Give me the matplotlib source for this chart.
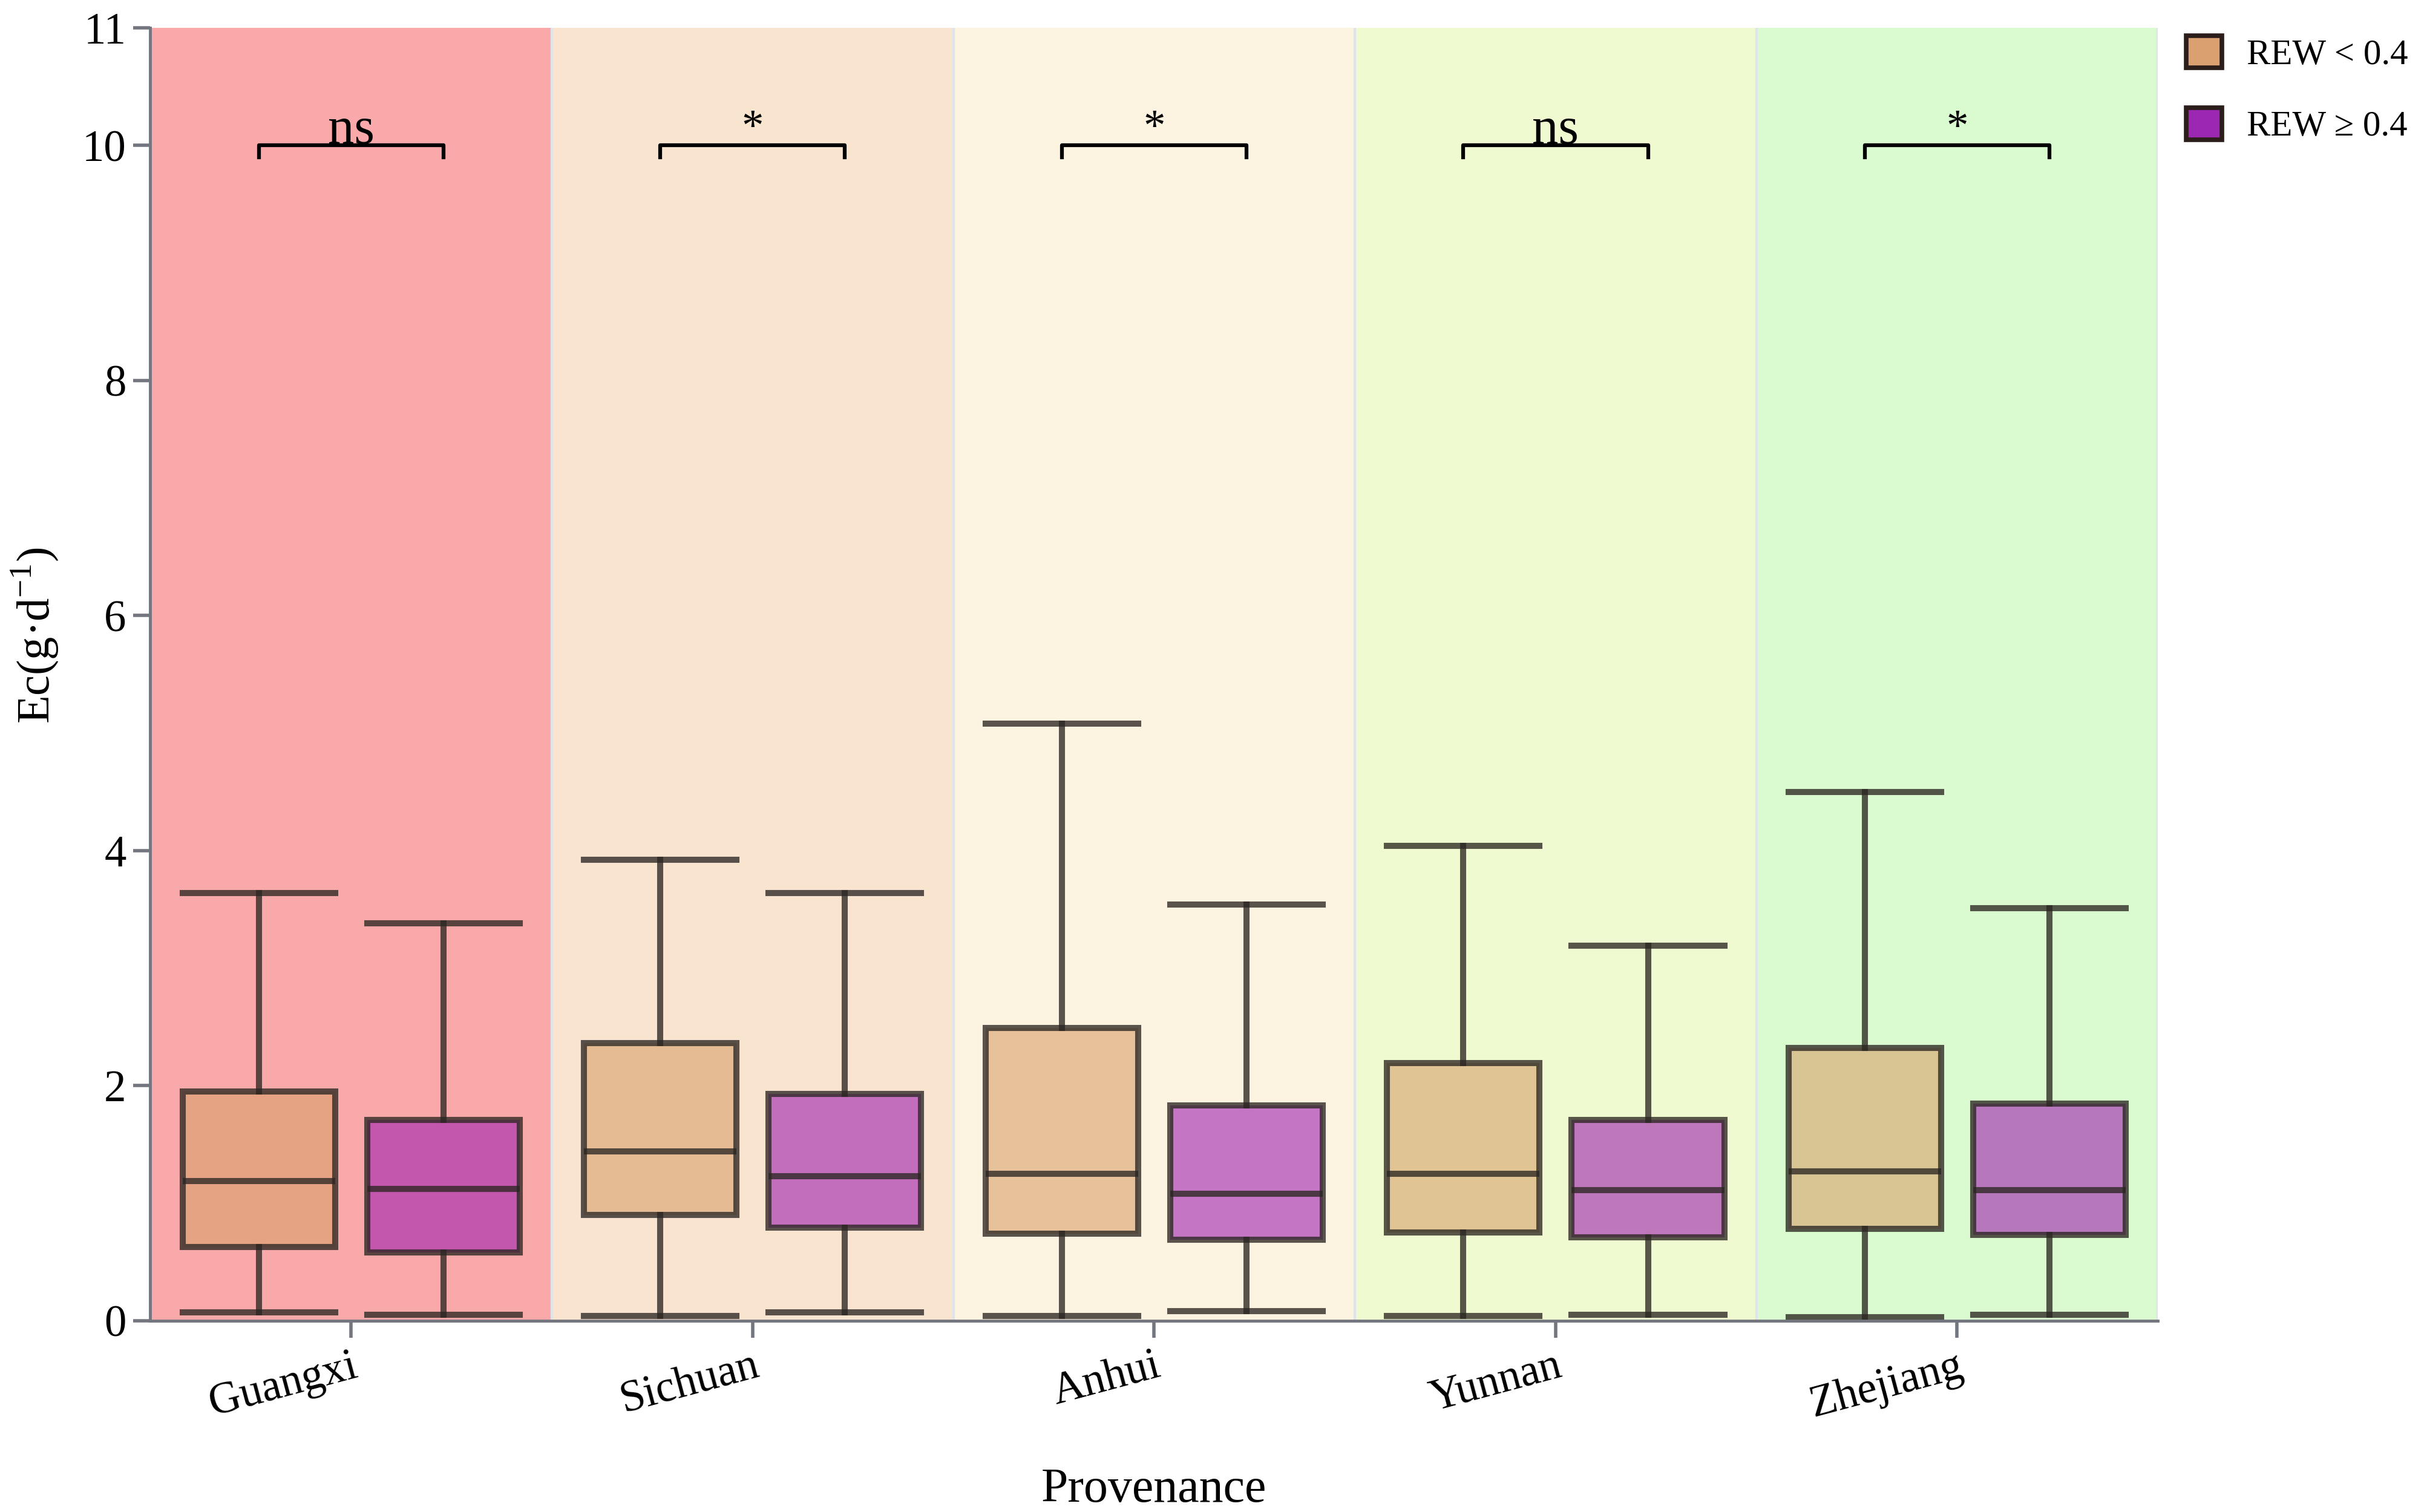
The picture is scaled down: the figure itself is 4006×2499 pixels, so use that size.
import numpy as np
import matplotlib
matplotlib.use('Agg')
from matplotlib import pyplot as plt
from matplotlib.patches import Patch
from matplotlib.colors import to_rgba

plt.rcParams['font.family'] = ['Liberation Serif', 'DejaVu Serif']
plt.rcParams['mathtext.fontset'] = 'custom'
plt.rcParams['mathtext.rm'] = 'Liberation Serif'

# 产地
provenance = ['Guangxi', 'Sichuan', 'Anhui', 'Yunnan', 'Zhejiang']
sig_labels = ['ns', '*', '*', 'ns', '*']
group_names = ['REW < 0.4', 'REW \u2265 0.4']

# REW < 0.4 箱线数据
low_whislo = [0.07, 0.04, 0.04, 0.04, 0.03]
low_q1 = [0.63, 0.90, 0.74, 0.75, 0.78]
low_med = [1.19, 1.44, 1.25, 1.25, 1.27]
low_q3 = [1.95, 2.36, 2.49, 2.19, 2.32]
low_whishi = [3.64, 3.92, 5.08, 4.04, 4.50]

# REW >= 0.4 箱线数据
high_whislo = [0.05, 0.07, 0.08, 0.05, 0.05]
high_q1 = [0.58, 0.79, 0.69, 0.71, 0.73]
high_med = [1.12, 1.23, 1.08, 1.11, 1.11]
high_q3 = [1.71, 1.93, 1.83, 1.71, 1.85]
high_whishi = [3.38, 3.64, 3.54, 3.19, 3.51]

bg_colors = ['#F9A9A9', '#F9E4D0', '#FCF4E1', '#EFFAD0', '#DAFACF']
box_colors = ['#D9A06B', '#A020B0']
legend_colors = ['#DBA070', '#9C27B0']
edge = to_rgba('#2b2622', 0.78)

fig = plt.figure(figsize=(16.028, 9.996), dpi=250)
ax = fig.add_axes([0.062, 0.1265, 0.828, 0.855])

n = len(provenance)
x = np.arange(n)
offset = 0.23
width = 0.38

# 背景色块
for i in range(n):
    ax.axvspan(i - 0.5, i + 0.5, color=bg_colors[i], zorder=0, lw=0)
for i in range(1, n + 1):
    ax.axvline(i - 0.5, color='#dfe4ec', lw=1.2, zorder=0.5)


def make_stats(lo, q1, med, q3, hi):
    return [dict(whislo=lo[i], q1=q1[i], med=med[i], q3=q3[i], whishi=hi[i])
            for i in range(len(lo))]


stats_low = make_stats(low_whislo, low_q1, low_med, low_q3, low_whishi)
stats_high = make_stats(high_whislo, high_q1, high_med, high_q3, high_whishi)

lw = 2.9
for stats, pos, col in [(stats_low, x - offset, box_colors[0]),
                        (stats_high, x + offset, box_colors[1])]:
    ax.bxp(stats, positions=pos, widths=width, capwidths=width,
           showfliers=False, patch_artist=True,
           boxprops=dict(facecolor=to_rgba(col, 0.6), edgecolor=edge, linewidth=lw),
           whiskerprops=dict(color=edge, linewidth=lw),
           capprops=dict(color=edge, linewidth=lw),
           medianprops=dict(color=edge, linewidth=lw),
           zorder=2)

# 显著性标注
for i in range(n):
    x1, x2 = x[i] - offset, x[i] + offset
    ax.plot([x1, x1, x2, x2], [9.9, 10.0, 10.0, 9.9], color='black', lw=1.8, zorder=3)
    if sig_labels[i] == 'ns':
        ax.text(x[i], 9.92, 'ns', ha='center', va='bottom', fontsize=25, zorder=4)
    else:
        ax.text(x[i], 9.96, '*', ha='center', va='bottom', fontsize=21, zorder=4)

ax.set_xlim(-0.5, n - 0.5)
ax.set_ylim(0, 11)
ax.set_yticks([0, 2, 4, 6, 8, 10, 11])
ax.set_xticks(x)
ax.set_xticklabels(provenance, rotation=15, ha='right', rotation_mode='anchor')

for s in ['top', 'right']:
    ax.spines[s].set_visible(False)
for s in ['left', 'bottom']:
    ax.spines[s].set_color('#73757f')
    ax.spines[s].set_linewidth(1.4)
ax.tick_params(axis='both', colors='#73757f', width=1.6, length=8, labelsize=21,
               labelcolor='black')
ax.tick_params(axis='x', length=8, pad=4)

ax.set_xlabel('Provenance', fontsize=23, labelpad=20)
ax.set_ylabel('Ec(g\u00b7d$^{-1}$)', fontsize=22)
ax.yaxis.set_label_coords(-0.045, 0.53)

handles = [Patch(facecolor=legend_colors[k], edgecolor='#2b1d1a', linewidth=2.2,
                 label=group_names[k]) for k in range(2)]
ax.legend(handles=handles, loc='upper left', bbox_to_anchor=(1.007, 1.005),
          frameon=False, fontsize=17, handlelength=1.0, handleheight=1.0,
          handletextpad=0.7, labelspacing=1.0, borderaxespad=0)

fig.savefig('out.png', dpi=250)
